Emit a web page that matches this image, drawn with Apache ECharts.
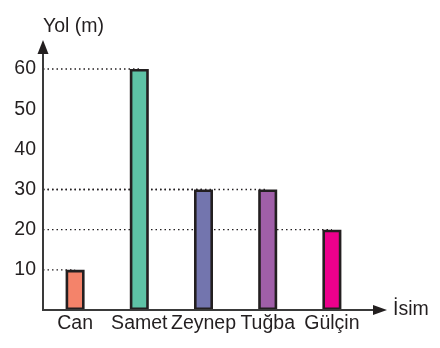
<!DOCTYPE html>
<html>
<head>
<meta charset="utf-8">
<script src="https://cdn.jsdelivr.net/npm/echarts@6/dist/echarts.min.js"></script>
<style>
html,body{margin:0;padding:0;background:#fff;}
#c{width:440px;height:348px;}
</style>
</head>
<body>
<div id="c"></div>
<script>
const categories = ['Can', 'Samet', 'Zeynep', 'Tuğba', 'Gülçin'];
const values = [10, 60, 30, 30, 20];
const barColors = ['#F4836A', '#5EC3A6', '#7375AE', '#A05FA8', '#EC008C'];
const yTicks = [10, 20, 30, 40, 50, 60];
const yName = 'Yol (m)';
const xName = 'İsim';

const GL = 43, GT = 69, GW = 321, GH = 241;
const ink = '#231F20';
const font = 'Liberation Sans, Arial, sans-serif';
const FS = 19.5;

const chart = echarts.init(document.getElementById('c'), null, {renderer: 'canvas'});
chart.setOption({
  animation: false,
  backgroundColor: '#fff',
  grid: {left: GL, top: GT, width: GW, height: GH},
  xAxis: {
    type: 'category',
    data: categories,
    boundaryGap: true,
    axisLine: {show: false},
    axisTick: {show: false},
    axisLabel: {interval: 0, margin: 4, color: ink, fontSize: FS, fontFamily: font},
    name: xName,
    nameLocation: 'end',
    nameGap: 29,
    nameTextStyle: {color: ink, fontSize: FS, fontFamily: font, align: 'left', verticalAlign: 'middle'},
    splitLine: {show: false}
  },
  yAxis: {
    type: 'value',
    min: 0, max: 60, interval: 10,
    axisLine: {show: false},
    axisTick: {show: false},
    splitLine: {show: false},
    axisLabel: {
      margin: 7, color: ink, fontSize: FS, fontFamily: font,
      formatter: v => yTicks.indexOf(v) >= 0 ? String(v) : ''
    },
    name: yName,
    nameLocation: 'end',
    nameGap: 42,
    nameTextStyle: {color: ink, fontSize: FS, fontFamily: font, align: 'left', verticalAlign: 'middle'}
  },
  series: [
    {
      type: 'custom',
      z: 1,
      data: values.map((v, i) => [i, v]),
      renderItem: function (params, api) {
        const p = api.coord([api.value(0), api.value(1)]);
        const x0 = params.coordSys.x;
        return {
          type: 'line',
          shape: {x1: x0, y1: p[1], x2: p[0], y2: p[1]},
          style: {stroke: ink, lineWidth: 1.3, lineDash: [1.5, 3]}
        };
      }
    },
    {
      type: 'bar',
      z: 5,
      barWidth: 19,
      data: values.map((v, i) => ({
        value: v,
        itemStyle: {color: barColors[i], borderColor: ink, borderWidth: 2.6}
      }))
    }
  ],
  graphic: [
    {type: 'line', z: 100, shape: {x1: GL, y1: GT + GH, x2: GL, y2: 52},
      style: {stroke: '#3A3A3A', lineWidth: 2}},
    {type: 'polygon', z: 100, shape: {points: [[GL, 40], [GL - 5.5, 54], [GL + 5.5, 54]]},
      style: {fill: ink}},
    {type: 'line', z: 100, shape: {x1: GL - 1, y1: GT + GH, x2: 376, y2: GT + GH},
      style: {stroke: '#3A3A3A', lineWidth: 2}},
    {type: 'polygon', z: 100, shape: {points: [[387, GT + GH], [373, GT + GH - 5], [373, GT + GH + 5]]},
      style: {fill: ink}}
  ]
});
</script>
</body>
</html>
